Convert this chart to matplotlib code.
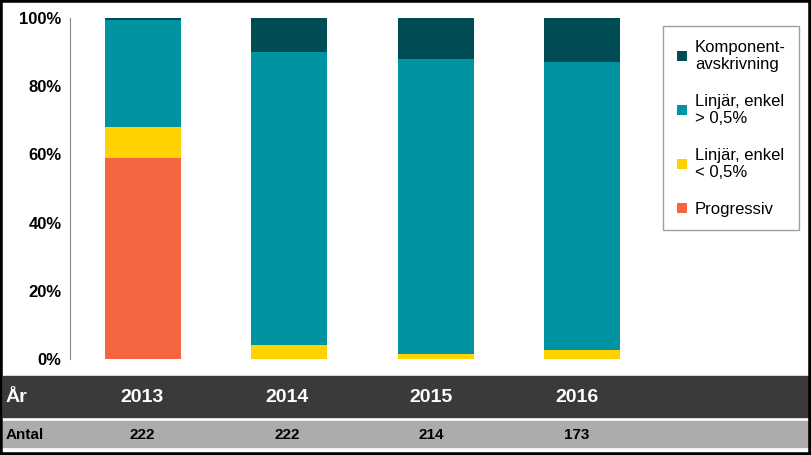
import matplotlib.pyplot as plt
import matplotlib.patches as mp
import numpy as np

years = ["2013", "2014", "2015", "2016"]
antal = ["222", "222", "214", "173"]
progressiv = [59, 0, 0, 0]
linjar_low = [9, 4, 1.5, 2.5]
linjar_high = [31.5, 86, 86.5, 84.5]
komponent = [0.5, 10, 12, 13]
series = [("Progressiv", progressiv, "#F5653F"),
          ("Linjär, enkel\n< 0,5%", linjar_low, "#FFD200"),
          ("Linjär, enkel\n> 0,5%", linjar_high, "#0094A3"),
          ("Komponent-\navskrivning", komponent, "#004C54")]

W, H = 811, 455
fig = plt.figure(figsize=(W/100, H/100), dpi=100)
fig.patch.set_facecolor("white")
ax = fig.add_axes([70/W, (H-359)/H, 585/W, 341/H])
x = np.arange(len(years))
bottom = np.zeros(len(years))
for name, vals, c in series:
    ax.bar(x, vals, 0.52, bottom=bottom, color=c, label=name)
    bottom += np.array(vals)
ax.set_xlim(-0.5, 3.5)
ax.set_ylim(0, 100)
ax.set_yticks(range(0, 101, 20))
ax.set_yticklabels([f"{v}%" for v in range(0, 101, 20)], fontsize=12, fontweight="bold", family="Liberation Sans")
ax.set_xticks([])
ax.tick_params(axis="y", length=0, pad=6)
ax.grid(False)
for s in ["top", "right", "bottom"]:
    ax.spines[s].set_visible(False)
ax.spines["left"].set_color("#888888")

h, l = ax.get_legend_handles_labels()
leg = fig.legend(h[::-1], l[::-1], loc="upper left", bbox_to_anchor=(655/W, 1-18/H),
                 prop={"family": "Liberation Sans", "size": 12}, frameon=True, fancybox=False,
                 edgecolor="#888888", handlelength=0.6, handleheight=0.6, labelspacing=1.3,
                 borderpad=0.8, handletextpad=0.5)

# bottom table bands
fig.patches.append(mp.Rectangle((3/W, (H-417)/H), (W-6)/W, 41/H, transform=fig.transFigure, color="#3B3A38"))
fig.patches.append(mp.Rectangle((3/W, (H-447)/H), (W-6)/W, 26/H, transform=fig.transFigure, color="#AEACAA"))
fig.text(6/W, (H-398)/H, "År", color="white", fontsize=14, fontweight="bold", va="center", family="Liberation Sans")
fig.text(6/W, (H-435)/H, "Antal", color="black", fontsize=11, fontweight="bold", va="center", family="Liberation Sans")
xs = [142, 287, 431, 577]
for xi, yv, a in zip(xs, years, antal):
    fig.text(xi/W, (H-398)/H, yv, color="white", fontsize=14, fontweight="bold", ha="center", va="center", family="Liberation Sans")
    fig.text(xi/W, (H-435)/H, a, color="black", fontsize=11, fontweight="bold", ha="center", va="center", family="Liberation Sans")

fig.patches.append(mp.Rectangle((0, 0), 1, 1, transform=fig.transFigure, fill=False, edgecolor="black", linewidth=4))
fig.savefig("out.png", dpi=100)
